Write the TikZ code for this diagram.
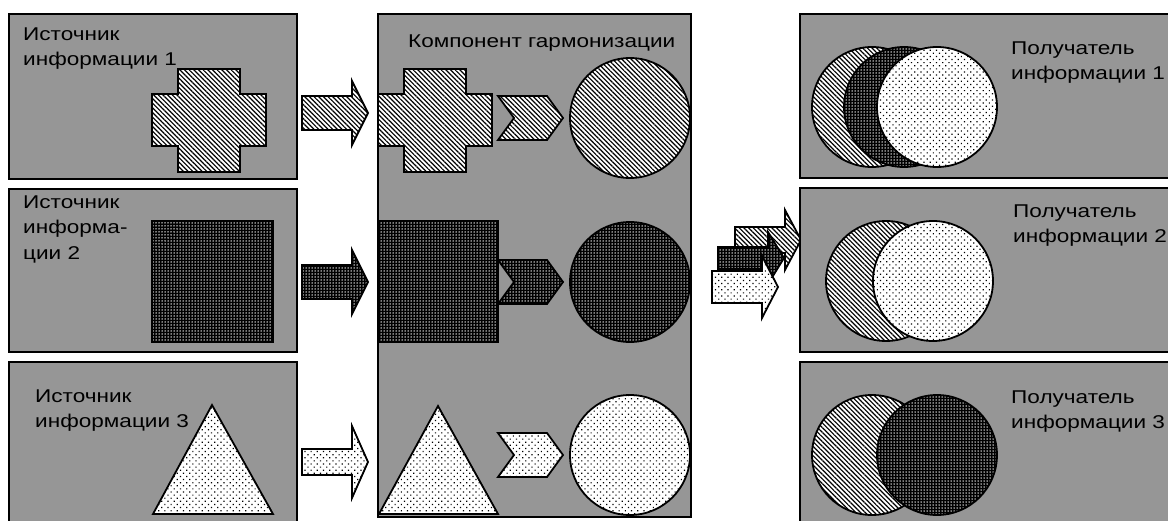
\documentclass[tikz,border=0pt]{standalone}
\usepackage{fontspec}
\setmainfont{Liberation Sans}
\newfontfamily\lblfont[FakeStretch=1.22]{Liberation Sans}
\usetikzlibrary{patterns.meta}

\definecolor{boxgray}{RGB}{150,150,150}

% block arrow: style, left x, centre y, half shaft, half head
\newcommand{\blockarrow}[5]{%
  \draw[#1] (#2,#3-#4) -- (#2+50,#3-#4) -- (#2+50,#3-#5) -- (#2+66,#3)
    -- (#2+50,#3+#5) -- (#2+50,#3+#4) -- (#2,#3+#4) -- cycle;}
% chevron: style, left x, centre y
\newcommand{\chevron}[3]{%
  \draw[#1] (#2,#3-22) -- (#2+49,#3-22) -- (#2+65,#3) -- (#2+49,#3+22)
    -- (#2,#3+22) -- (#2+16,#3) -- cycle;}
% cross: style, left x, top y
\newcommand{\crossshape}[3]{%
  \draw[#1] (#2+26,#3) -- (#2+88,#3) -- (#2+88,#3+25) -- (#2+114,#3+25)
    -- (#2+114,#3+77) -- (#2+88,#3+77) -- (#2+88,#3+103) -- (#2+26,#3+103)
    -- (#2+26,#3+77) -- (#2,#3+77) -- (#2,#3+25) -- (#2+26,#3+25) -- cycle;}

\tikzset{
  box/.style={draw=black, line width=1.3pt, fill=boxgray},
  shp/.style={draw=black, line width=1.8pt, line join=miter},
  hatchfill/.style={shp, preaction={fill=white},
    pattern={Lines[angle=-45,distance=3.3pt,line width=1.2pt]}},
  darkfill/.style={shp, preaction={fill=black},
    pattern={Dots[distance=3pt,radius=0.75pt]}, pattern color=white},
  dotfill/.style={shp, preaction={fill=white},
    pattern={Dots[distance=4.4pt,angle=45,radius=0.85pt]}},
  lbl/.style={font=\lblfont\fontsize{18.5}{25.5}\selectfont, align=left,
    text width=320pt, inner sep=0pt, anchor=base west},
}

\begin{document}
\begin{tikzpicture}[x=1pt, y=-1pt]
    \useasboundingbox (0,0) rectangle (1168,520);

    % sources
    \draw[box] (9,14) rectangle (297,179);
    \draw[box] (9,189) rectangle (297,352);
    \draw[box] (9,362) rectangle (297,530);
    \node[lbl] (src1) at (23,40) {Источник\\информации 1};
    \node[lbl] (src2) at (23,208) {Источник\\информа-\\ции 2};
    \node[lbl] (src3) at (35,402) {Источник\\информации 3};
    \crossshape{hatchfill}{152}{69}
    \draw[darkfill] (152,221) rectangle (273,342);
    \draw[dotfill] (212,405) -- (273,514) -- (153,514) -- cycle;

    % arrows into the component
    \blockarrow{hatchfill}{302}{113}{17}{32}
    \blockarrow{darkfill}{302}{282}{17}{32}
    \blockarrow{dotfill}{302}{462}{13}{36}

    % harmonisation component
    \draw[box] (378,14) rectangle (691,517);
    \node[lbl] (harm) at (408,47) {Компонент гармонизации};
    \crossshape{hatchfill}{378}{69}
    \draw[darkfill] (378,221) rectangle (498,342);
    \draw[dotfill] (438,406) -- (498,514) -- (379,514) -- cycle;
    \chevron{hatchfill}{498}{118}
    \chevron{darkfill}{498}{282}
    \chevron{dotfill}{498}{455}
    \draw[hatchfill] (630,118) circle[radius=60pt];
    \draw[darkfill] (630,282) circle[radius=60pt];
    \draw[dotfill] (630,455) circle[radius=60pt];

    % merged arrows
    \blockarrow{hatchfill}{735}{240}{13}{30}
    \blockarrow{darkfill}{718}{258}{11}{26}
    \blockarrow{dotfill}{712}{287}{16}{31}

    % receivers
    \draw[box] (800,14) rectangle (1180,178);
    \draw[box] (800,188) rectangle (1180,352);
    \draw[box] (800,362) rectangle (1180,530);
    \node[lbl] (rcv1) at (1011,54) {Получатель\\информации 1};
    \node[lbl] (rcv2) at (1013,217) {Получатель\\информации 2};
    \node[lbl] (rcv3) at (1011,403) {Получатель\\информации 3};
    \draw[hatchfill] (872,107) circle[radius=60pt];
    \draw[darkfill] (904,107) circle[radius=60pt];
    \draw[dotfill] (937,107) circle[radius=60pt];
    \draw[hatchfill] (886,281) circle[radius=60pt];
    \draw[dotfill] (933,281) circle[radius=60pt];
    \draw[hatchfill] (872,455) circle[radius=60pt];
    \draw[darkfill] (937,455) circle[radius=60pt];
\end{tikzpicture}
\end{document}
